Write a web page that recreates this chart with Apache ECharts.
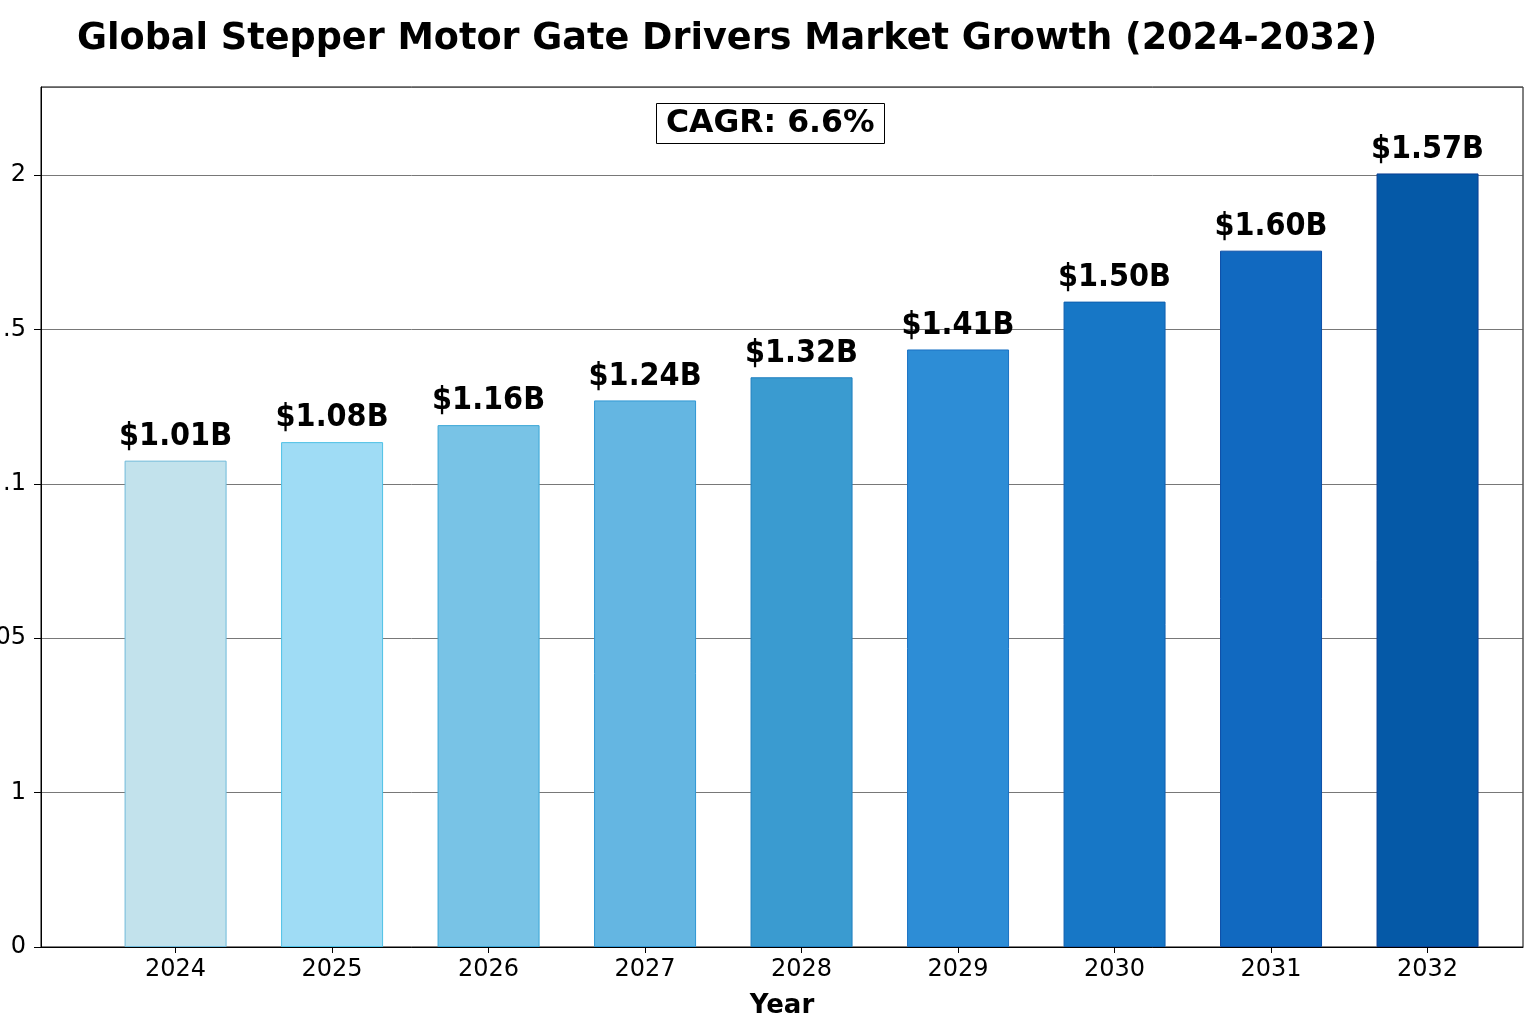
<!DOCTYPE html>
<html>
<head>
<meta charset="utf-8">
<title>Global Stepper Motor Gate Drivers Market Growth</title>
<script src="https://cdn.jsdelivr.net/npm/echarts@6/dist/echarts.min.js"></script>
<style>
  html, body { margin: 0; padding: 0; background: #fff; }
  #main { width: 1536px; height: 1024px; }
</style>
</head>
<body>
<div id="main"></div>
<script>
  // 数据
  const years = [2024, 2025, 2026, 2027, 2028, 2029, 2030, 2031, 2032]
  // bar heights in y-axis tick units, as drawn in the picture
  const barHeights = [3.15, 3.27, 3.38, 3.54, 3.69, 3.87, 4.18, 4.51, 5.01]
  const valueLabels = ['$1.01B', '$1.08B', '$1.16B', '$1.24B', '$1.32B', '$1.41B', '$1.50B', '$1.60B', '$1.57B']
  const yTickLabels = ['0', '1', '05', '.1', '.5', '2']
  const barColors = ['#c2e2ec', '#9fdcf5', '#78c3e6', '#64b6e2', '#3a9bd0', '#2d8dd6', '#1777c6', '#1169c0', '#0559a7']
  const borderColors = ['#6fb9d9', '#4fc2e6', '#3aa6d6', '#2f97d4', '#1e7fc0', '#1a72c4', '#0f5fb0', '#0c4fa8', '#0a3f94']
  const cagrText = 'CAGR: 6.6%'

  const font = 'DejaVu Sans'
  const myChart = echarts.init(document.getElementById('main'), null, { renderer: 'canvas' })

  const option = {
    animation: false,
    title: [
      {
        text: 'Global Stepper Motor Gate Drivers Market Growth (2024-2032)',
        left: 72,
        top: 16,
        textStyle: { fontFamily: font, fontWeight: 'bold', fontSize: 36.6, color: '#000' }
      },
      {
        text: cagrText,
        left: 656,
        top: 103,
        padding: [5, 10, 4, 10],
        borderColor: '#000',
        borderWidth: 1,
        backgroundColor: '#fff',
        textStyle: { fontFamily: font, fontWeight: 'bold', fontSize: 31.5, color: '#000' }
      }
    ],
    grid: {
      left: 41,
      right: 13,
      top: 87,
      bottom: 77,
      outerBoundsMode: 'none',
      containLabel: false,
      show: true,
      borderColor: '#000',
      borderWidth: 1,
      backgroundColor: 'transparent'
    },
    xAxis: {
      type: 'value',
      min: 2023.14,
      max: 2032.61,
      splitNumber: 9,
      minInterval: 1,
      maxInterval: 1,
      name: 'Year',
      nameLocation: 'middle',
      nameGap: 46,
      nameTextStyle: { fontFamily: font, fontWeight: 'bold', fontSize: 26, color: '#000' },
      axisLine: { show: true, lineStyle: { color: '#000', width: 1 } },
      axisTick: { show: true, length: 6, lineStyle: { color: '#000' } },
      axisLabel: {
        fontFamily: font,
        fontSize: 24,
        color: '#000',
        margin: 11,
        showMinLabel: false,
        showMaxLabel: false,
        formatter: function (v) {
          return Number.isInteger(v) ? String(v) : ''
        }
      },
      splitLine: { show: false }
    },
    yAxis: {
      type: 'value',
      min: 0,
      max: 5.57,
      interval: 1,
      axisLine: { show: true, lineStyle: { color: '#000', width: 1 } },
      axisTick: { show: true, length: 7, lineStyle: { color: '#000' } },
      axisLabel: {
        fontFamily: font,
        fontSize: 24,
        color: '#000',
        margin: 15,
        showMaxLabel: false,
        formatter: function (v) {
          const i = Math.round(v)
          return yTickLabels[i] !== undefined ? yTickLabels[i] : ''
        }
      },
      splitLine: { show: true, lineStyle: { color: '#555', width: 0.8 } }
    },
    series: [
      {
        type: 'bar',
        barWidth: 102,
        data: years.map((y, i) => ({
          value: [y, barHeights[i]],
          itemStyle: { color: barColors[i], borderColor: borderColors[i], borderWidth: 1 },
          label: { formatter: valueLabels[i] }
        })),
        label: {
          show: true,
          position: 'top',
          distance: 8,
          fontFamily: 'DejaVu Sans Condensed',
          fontWeight: 'bold',
          fontSize: 32,
          color: '#000'
        },
        z: 3
      }
    ]
  }

  myChart.setOption(option)
</script>
</body>
</html>
